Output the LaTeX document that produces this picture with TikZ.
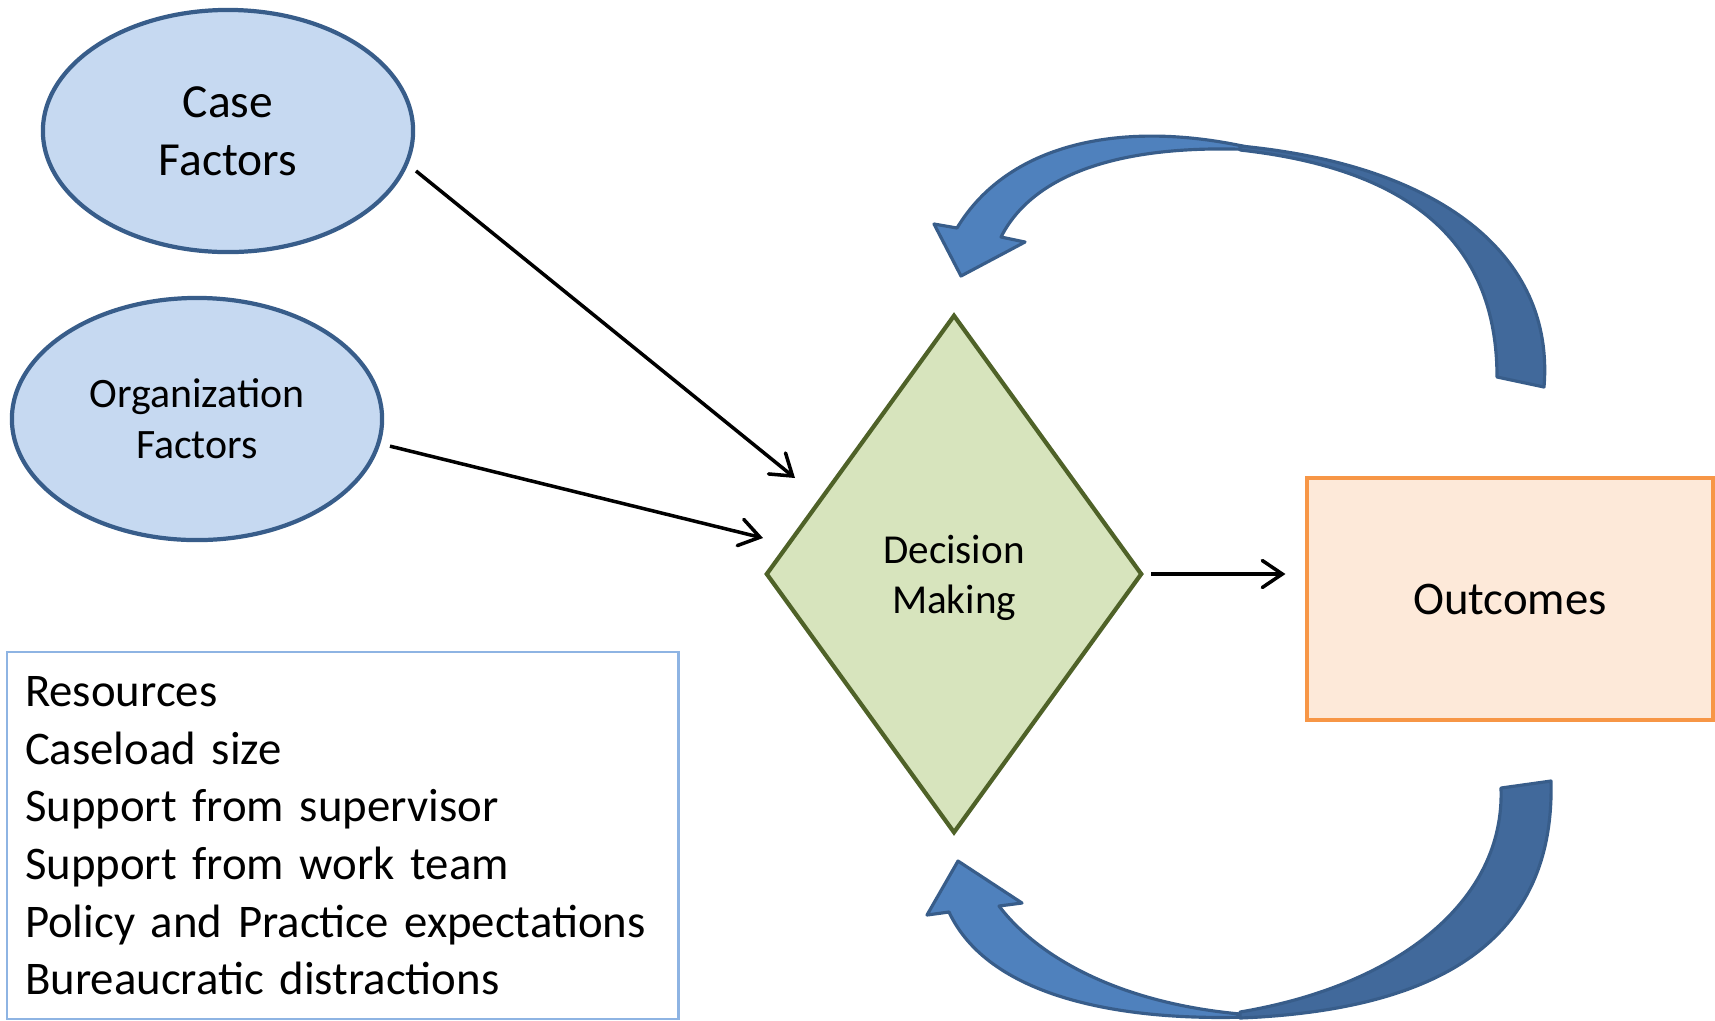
\documentclass[tikz,border=0pt]{standalone}
\usepackage{fontspec}
\setmainfont{Carlito}
\usetikzlibrary{shapes.geometric,arrows.meta}
\definecolor{ovalfill}{HTML}{C6D9F1}
\definecolor{ovaledge}{HTML}{385D8A}
\definecolor{dmfill}{HTML}{D7E4BD}
\definecolor{dmedge}{HTML}{4F6228}
\definecolor{outfill}{HTML}{FDE9D9}
\definecolor{outedge}{HTML}{F79646}
\definecolor{listedge}{HTML}{8EB4E3}
\definecolor{loopfront}{HTML}{4F81BD}
\definecolor{loopback}{HTML}{41699B}
\begin{document}
\begin{tikzpicture}[x=0.01cm,y=-0.01cm,
	oval/.style={ellipse, draw=ovaledge, fill=ovalfill, line width=1.2pt, inner sep=0pt, outer sep=0.12cm, minimum width=3.7cm, minimum height=2.42cm, align=center},
	conn/.style={line width=1pt, -{Straight Barb[length=2mm,width=2.7mm,line cap=round]}},
	loopband/.style={draw=ovaledge, line width=0.9pt, line join=round}]
	
	\useasboundingbox (0,0) rectangle (1715,1020);
	
	\node [oval, font=\fontsize{13.5}{16.5}\selectfont] (case) at (228,131) {Case\\Factors};
	
	\node [oval, font=\fontsize{11.9}{14.5}\selectfont] (org) at (197,419) {Organization\\Factors};
	
	\node [diamond, draw=dmedge, fill=dmfill, line width=1.2pt, inner sep=0pt, minimum width=3.76cm, minimum height=5.18cm, align=center, text depth=0pt, font=\fontsize{11.7}{14.3}\selectfont] (dm) at (954,574) {Decision\\Making};
	
	\node [rectangle, draw=outedge, fill=outfill, line width=1.1pt, minimum width=4.05cm, minimum height=2.42cm, font=\fontsize{13.3}{16.4}\selectfont] (out) at (1510,599) {Outcomes};
	
	\node [rectangle, draw=listedge, line width=0.6pt, anchor=north west, inner xsep=0.185cm, inner ysep=0pt, text width=6.345cm, minimum height=3.67cm, align=left, font=\fontsize{13.3}{16.4}\selectfont] (res) at (5.5,651) {Resources\\Caseload size\\Support from supervisor\\Support from work team\\Policy and Practice expectations\\Bureaucratic distractions};
	
	\coordinate (case-tip) at (795,478);
	
	\coordinate (org-tip) at (763,538);
	
	\draw [conn] (case.-12) -- (case-tip);
	
	\draw [conn] (org.-8) -- (org-tip);
	
	\draw [conn, shorten <=0.07cm, shorten >=0.2cm] (dm.east) -- (dm.east -| out.west);
	
	\filldraw [loopband, fill=loopfront] (957,228) -- (934,224) -- (961,276) -- (1025,242) -- (1001,237) .. controls (1035,170) and (1130,143) .. (1260,150) .. controls (1130,118) and (1010,140) .. (957,228) -- cycle;
	
	\filldraw [loopband, fill=loopback] (1240,146) .. controls (1440,165) and (1555,255) .. (1544,387) -- (1497,377) .. controls (1497,250) and (1420,170) .. (1240,150) -- cycle;
	
	\filldraw [loopband, fill=loopfront] (949,912) -- (927,915) -- (958,861) -- (1022,903) -- (999,906) .. controls (1040,960) and (1130,1010) .. (1270,1016) .. controls (1130,1024) and (990,1000) .. (949,912) -- cycle;
	
	\filldraw [loopband, fill=loopback] (1240,1018) .. controls (1440,1010) and (1555,940) .. (1551,781) -- (1501,788) .. controls (1505,900) and (1400,985) .. (1240,1012) -- cycle;
	
\end{tikzpicture}
\end{document}
